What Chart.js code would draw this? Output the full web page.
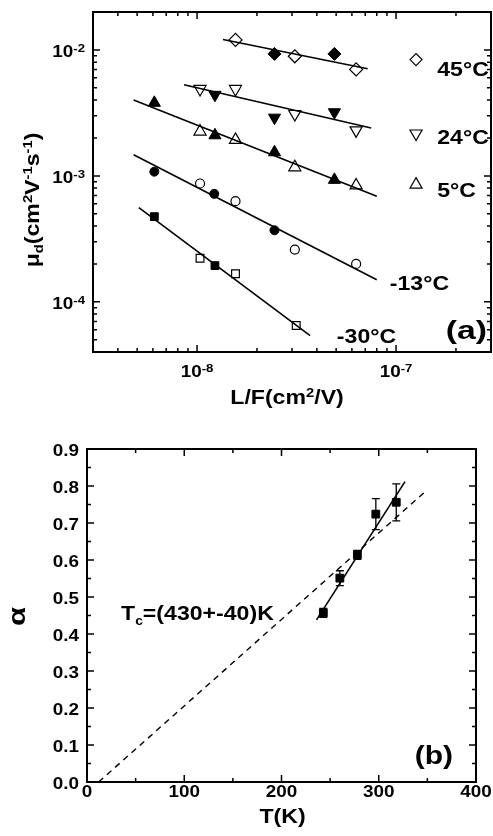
<!DOCTYPE html>
<html>
<head>
<meta charset="utf-8">
<script src="https://cdn.jsdelivr.net/npm/chart.js@4/dist/chart.umd.min.js"></script>
<style>
  body { margin: 0; background: #fff; }
  canvas { display: block; }
</style>
</head>
<body>
<canvas id="mobility" width="493" height="420"></canvas>
<canvas id="alpha" width="493" height="416"></canvas>
<script>
// ---- panel (a): mobility vs L/F, one fit line per temperature ----
const lf45Open = [1.56e-8, 3.1e-8, 6.3e-8];
const mu45Open = [0.0120, 0.0089, 0.0070];
const lf45Fill = [2.45e-8, 4.9e-8];
const mu45Fill = [0.0093, 0.0093];
const lf45Fit = [1.35e-8, 7.2e-8];
const mu45Fit = [0.0121, 0.0071];

const lf24Open = [1.035e-8, 1.56e-8, 3.1e-8, 6.3e-8];
const mu24Open = [0.0049, 0.0049, 0.0031, 0.0023];
const lf24Fill = [1.23e-8, 2.45e-8, 4.9e-8];
const mu24Fill = [0.0044, 0.0029, 0.0032];
const lf24Fit = [8.6e-9, 7.5e-8];
const mu24Fit = [0.0053, 0.0024];

const lf5Open = [1.035e-8, 1.56e-8, 3.1e-8, 6.3e-8];
const mu5Open = [0.00225, 0.00193, 0.00117, 0.00084];
const lf5Fill = [6.1e-9, 1.23e-8, 2.45e-8, 4.9e-8];
const mu5Fill = [0.0038, 0.0021, 0.00154, 0.00093];
const lf5Fit = [4.8e-9, 8.0e-8];
const mu5Fit = [0.0040, 0.00069];

const lfM13Open = [1.035e-8, 1.56e-8, 3.1e-8, 6.3e-8];
const muM13Open = [0.00087, 0.00063, 0.00026, 0.00020];
const lfM13Fill = [6.1e-9, 1.22e-8, 2.45e-8];
const muM13Fill = [0.00108, 0.00072, 0.00037];
const lfM13Fit = [4.8e-9, 8.0e-8];
const muM13Fit = [0.00147, 0.00015];

const lfM30Open = [1.035e-8, 1.56e-8, 3.15e-8];
const muM30Open = [0.000222, 0.000167, 0.000065];
const lfM30Fill = [6.1e-9, 1.23e-8];
const muM30Fill = [0.000475, 0.000194];
const lfM30Fit = [5.1e-9, 3.7e-8];
const muM30Fit = [0.00056, 0.000054];

const lfTicks = [4e-9, 5e-9, 6e-9, 7e-9, 8e-9, 9e-9, 1e-8, 2e-8, 3e-8, 4e-8, 5e-8,
  6e-8, 7e-8, 8e-8, 9e-8, 1e-7, 2e-7];
const muTicks = [5e-5, 6e-5, 7e-5, 8e-5, 9e-5, 1e-4, 2e-4, 3e-4, 4e-4, 5e-4, 6e-4,
  7e-4, 8e-4, 9e-4, 1e-3, 2e-3, 3e-3, 4e-3, 5e-3, 6e-3, 7e-3, 8e-3, 9e-3, 1e-2];

// legend entries drawn inside the plot, right side
const legendNames = ['45°C', '24°C', '5°C'];
const legendStyles = ['rectRot', 'triangle', 'triangle'];
const legendRot = [0, 180, 0];

// ---- panel (b): exponent alpha vs temperature ----
const tempK = [243, 260, 278, 297, 318];
const alphaVal = [0.457, 0.551, 0.614, 0.724, 0.756];
const alphaErr = [0.012, 0.02, 0.012, 0.042, 0.05];
const tempFit = [236, 327];
const alphaFit = [0.438, 0.812];
const tempExtrap = [12, 350];
const alphaExtrap = [0, 0.79];

const FONT = '"Liberation Sans", Arial, Helvetica, sans-serif';
Chart.defaults.font.family = FONT;
Chart.defaults.font.weight = 'bold';
Chart.defaults.color = '#000';

const pts = (xs, ys) => xs.map((x, i) => ({ x, y: ys[i] }));

function isDecade(v) {
  const l = Math.log10(v);
  return Math.abs(l - Math.round(l)) < 1e-6;
}
const isStep = step => v => Math.abs(v / step - Math.round(v / step)) < 1e-6;

// bold text with sub/superscript pieces; y is the centre of the capitals,
// sx widens the glyphs a little (the figure uses a wide bold face)
function drawRich(ctx, parts, x, y, o) {
  const size = o.size, sx = o.sx || 1.1;
  const supDy = o.supDy !== undefined ? o.supDy : -0.32;
  const small = o.small || 0.64;
  const fontFor = k => `bold ${k ? size * small : size}px ${FONT}`;
  let w = 0;
  parts.forEach(([t, k]) => { ctx.font = fontFor(k); w += ctx.measureText(t).width; });
  ctx.save();
  ctx.translate(x, y);
  ctx.rotate(o.rot || 0);
  ctx.scale(sx, 1);
  ctx.fillStyle = '#000';
  ctx.textAlign = 'left';
  ctx.textBaseline = 'alphabetic';
  let cx = o.align === 'center' ? -w / 2 : o.align === 'right' ? -w : 0;
  parts.forEach(([t, k]) => {
    ctx.font = fontFor(k);
    const dy = k === 'sup' ? supDy * size : k === 'sub' ? 0.22 * size : 0;
    ctx.fillText(t, cx, size * 0.358 + dy);
    cx += ctx.measureText(t).width;
  });
  ctx.restore();
}

// frame plus inward tick marks on all four sides
function drawFrame(chart, majorX, majorY) {
  const { ctx, chartArea: a, scales } = chart;
  ctx.save();
  ctx.strokeStyle = '#000';
  ctx.lineWidth = 1.5;
  ctx.beginPath();
  scales.x.ticks.forEach(t => {
    const p = scales.x.getPixelForValue(t.value);
    const len = majorX(t.value) ? 7 : 4;
    ctx.moveTo(p, a.bottom); ctx.lineTo(p, a.bottom - len);
    ctx.moveTo(p, a.top); ctx.lineTo(p, a.top + len);
  });
  scales.y.ticks.forEach(t => {
    const p = scales.y.getPixelForValue(t.value);
    const len = majorY(t.value) ? 7 : 4;
    ctx.moveTo(a.left, p); ctx.lineTo(a.left + len, p);
    ctx.moveTo(a.right, p); ctx.lineTo(a.right - len, p);
  });
  ctx.stroke();
  ctx.lineWidth = 2;
  ctx.strokeRect(a.left, a.top, a.right - a.left, a.bottom - a.top);
  ctx.restore();
}

// tick labels come from the scales' own ticks
function drawTickLabels(chart, fmtX, fmtY, xGap, yGap, size) {
  const { ctx, chartArea: a, scales: { x, y } } = chart;
  x.ticks.forEach(t => {
    const parts = fmtX(t.value);
    if (parts) drawRich(ctx, parts, x.getPixelForValue(t.value), a.bottom + xGap,
      { size, align: 'center', sx: 1.18, small: 0.7, supDy: -0.3 });
  });
  y.ticks.forEach(t => {
    const parts = fmtY(t.value);
    if (parts) drawRich(ctx, parts, a.left - yGap, y.getPixelForValue(t.value) + 1.5,
      { size, align: 'right', sx: 1.18, small: 0.7, supDy: -0.3 });
  });
}
const decadeParts = v => isDecade(v) ? [['10'], [String(Math.round(Math.log10(v))), 'sup']] : null;

// scales keep fixed sizes so the plot frames sit where they should
const fixScale = (axis, size) => s => {
  if (axis === 'x') s.height = size; else s.width = size;
  s.paddingLeft = s.paddingRight = s.paddingTop = s.paddingBottom = 0;
};

const openPt = (style, r, rot) => ({
  pointStyle: style, pointRadius: r, pointRotation: rot || 0,
  backgroundColor: 'rgba(0,0,0,0)', borderColor: '#000', pointBorderWidth: 1.2,
  showLine: false, order: 0
});
const fillPt = (style, r, rot) => ({
  pointStyle: style, pointRadius: r, pointRotation: rot || 0,
  backgroundColor: '#000', borderColor: '#000', pointBorderWidth: 1,
  showLine: false, order: 0
});
const fitLine = () => ({
  showLine: true, pointRadius: 0, borderColor: '#000', borderWidth: 1.6, order: 1
});

const mobilityPlugin = {
  id: 'mobilityDecor',
  afterDatasetsDraw(chart) {
    const { ctx, chartArea: a, scales: { x, y } } = chart;
    drawFrame(chart, isDecade, isDecade);
    drawTickLabels(chart, decadeParts, decadeParts, 19, 8, 16);

    // temperature legend
    const symX = x.getPixelForValue(1.26e-7);
    const txtX = x.getPixelForValue(1.61e-7);
    const symY = [8.38e-3, 2.17e-3, 8.53e-4];
    const txtY = [7.17e-3, 2.05e-3, 7.78e-4];
    legendNames.forEach((name, i) => {
      ctx.save();
      ctx.strokeStyle = '#000';
      ctx.fillStyle = 'rgba(0,0,0,0)';
      ctx.lineWidth = 1.2;
      Chart.helpers.drawPoint(ctx, {
        pointStyle: legendStyles[i], radius: legendStyles[i] === 'rectRot' ? 6 : 7,
        rotation: legendRot[i], borderWidth: 1.2
      }, symX, y.getPixelForValue(symY[i]));
      ctx.restore();
      drawRich(ctx, [[name]], txtX, y.getPixelForValue(txtY[i]), { size: 21 });
    });
    drawRich(ctx, [['-13°C']], x.getPixelForValue(9.3e-8), y.getPixelForValue(1.42e-4), { size: 21 });
    drawRich(ctx, [['-30°C']], x.getPixelForValue(5.04e-8), y.getPixelForValue(5.4e-5), { size: 21 });
    drawRich(ctx, [['(a)']], a.right - 4, a.bottom - 22, { size: 25, align: 'right', sx: 1.35 });

    // axis titles
    drawRich(ctx, [['L/F(cm'], ['2', 'sup'], ['/V)']], (a.left + a.right) / 2 - 5, 396, { size: 21, align: 'center' });
    drawRich(ctx, [['μ'], ['d', 'sub'], ['(cm'], ['2', 'sup'], ['V'], ['-1', 'sup'],
      ['s'], ['-1', 'sup'], [')']], 31, 200, { size: 21, align: 'center', rot: -Math.PI / 2 });
  }
};

new Chart(document.getElementById('mobility'), {
  type: 'scatter',
  data: {
    datasets: [
      { data: pts(lf45Open, mu45Open), ...openPt('rectRot', 6.5) },
      { data: pts(lf45Fill, mu45Fill), ...fillPt('rectRot', 6.5) },
      { data: pts(lf45Fit, mu45Fit), ...fitLine() },
      { data: pts(lf24Open, mu24Open), ...openPt('triangle', 7, 180) },
      { data: pts(lf24Fill, mu24Fill), ...fillPt('triangle', 7, 180) },
      { data: pts(lf24Fit, mu24Fit), ...fitLine() },
      { data: pts(lf5Open, mu5Open), ...openPt('triangle', 7) },
      { data: pts(lf5Fill, mu5Fill), ...fillPt('triangle', 7) },
      { data: pts(lf5Fit, mu5Fit), ...fitLine() },
      { data: pts(lfM13Open, muM13Open), ...openPt('circle', 4.5) },
      { data: pts(lfM13Fill, muM13Fill), ...fillPt('circle', 4.5) },
      { data: pts(lfM13Fit, muM13Fit), ...fitLine() },
      { data: pts(lfM30Open, muM30Open), ...openPt('rect', 5.5) },
      { data: pts(lfM30Fill, muM30Fill), ...fillPt('rect', 5.5) },
      { data: pts(lfM30Fit, muM30Fit), ...fitLine() }
    ]
  },
  options: {
    responsive: false,
    animation: false,
    layout: { autoPadding: false, padding: { top: 12, right: 2, left: 0, bottom: 0 } },
    plugins: { legend: { display: false }, tooltip: { enabled: false } },
    scales: {
      x: {
        type: 'logarithmic', min: 3e-9, max: 3e-7,
        grid: { display: false, drawTicks: false }, border: { display: false },
        afterBuildTicks: s => { s.ticks = lfTicks.map(v => ({ value: v })); },
        afterFit: fixScale('x', 68),
        ticks: { display: false }
      },
      y: {
        type: 'logarithmic', min: 4e-5, max: 2e-2,
        grid: { display: false, drawTicks: false }, border: { display: false },
        afterBuildTicks: s => { s.ticks = muTicks.map(v => ({ value: v })); },
        afterFit: fixScale('y', 93),
        ticks: { display: false }
      }
    }
  },
  plugins: [mobilityPlugin]
});

const alphaPlugin = {
  id: 'alphaDecor',
  afterDatasetsDraw(chart) {
    const { ctx, chartArea: a, scales: { x, y } } = chart;
    // error bars
    ctx.save();
    ctx.strokeStyle = '#000';
    ctx.lineWidth = 1.3;
    ctx.beginPath();
    tempK.forEach((t, i) => {
      const px = x.getPixelForValue(t);
      const top = y.getPixelForValue(alphaVal[i] + alphaErr[i]);
      const bot = y.getPixelForValue(alphaVal[i] - alphaErr[i]);
      ctx.moveTo(px, top); ctx.lineTo(px, bot);
      ctx.moveTo(px - 4, top); ctx.lineTo(px + 4, top);
      ctx.moveTo(px - 4, bot); ctx.lineTo(px + 4, bot);
    });
    ctx.stroke();
    ctx.restore();

    drawFrame(chart, isStep(100), isStep(0.1));
    drawTickLabels(chart,
      v => isStep(100)(v) ? [[String(v)]] : null,
      v => isStep(0.1)(v) ? [[v.toFixed(1)]] : null, 9, 8, 16);

    drawRich(ctx, [['T'], ['c', 'sub'], ['=(430+-40)K']],
      x.getPixelForValue(35), y.getPixelForValue(0.458), { size: 21, small: 0.6 });
    drawRich(ctx, [['(b)']], a.right - 23, a.bottom - 27, { size: 25, align: 'right', sx: 1.2 });

    drawRich(ctx, [['T(K)']], (a.left + a.right) / 2 + 1, 395, { size: 21, align: 'center' });
    drawRich(ctx, [['α']], 16.5, (a.top + a.bottom) / 2 + 1, { size: 24, align: 'center', sx: 1.3, rot: -Math.PI / 2 });
  }
};

new Chart(document.getElementById('alpha'), {
  type: 'scatter',
  data: {
    datasets: [
      { data: pts(tempK, alphaVal), ...fillPt('rect', 5.5) },
      { data: pts(tempFit, alphaFit), ...fitLine() },
      { data: pts(tempExtrap, alphaExtrap), ...fitLine(), borderWidth: 1.4, borderDash: [6, 5] }
    ]
  },
  options: {
    responsive: false,
    animation: false,
    layout: { autoPadding: false, padding: { top: 29, right: 17, left: 0, bottom: 0 } },
    plugins: { legend: { display: false }, tooltip: { enabled: false } },
    scales: {
      x: {
        type: 'linear', min: 0, max: 400,
        grid: { display: false, drawTicks: false }, border: { display: false },
        afterFit: fixScale('x', 54),
        ticks: { stepSize: 50, display: false }
      },
      y: {
        type: 'linear', min: 0, max: 0.9,
        grid: { display: false, drawTicks: false }, border: { display: false },
        afterFit: fixScale('y', 87),
        ticks: { stepSize: 0.05, display: false }
      }
    }
  },
  plugins: [alphaPlugin]
});
</script>
</body>
</html>
